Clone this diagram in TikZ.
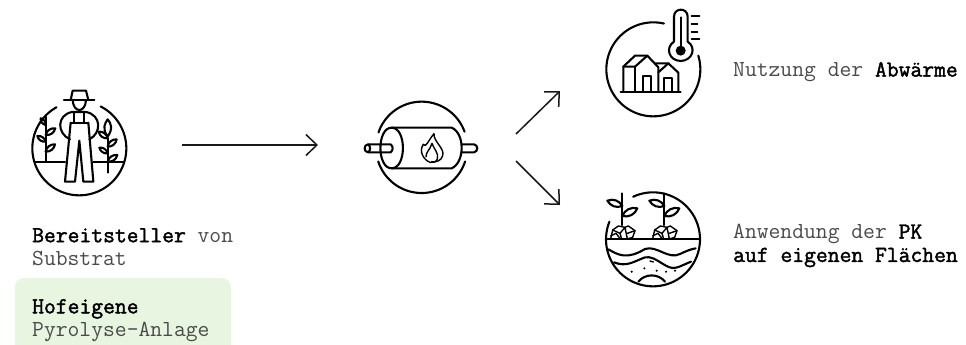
\documentclass[tikz,border=0pt]{standalone}
\usepackage{fontspec}
\setmonofont{Latin Modern Mono}[BoldFont={Latin Modern Mono},BoldFeatures={FakeBold=1.8}]
\usetikzlibrary{arrows.meta}
\definecolor{txtgray}{HTML}{4A4A4A}
\definecolor{boxgreen}{HTML}{E8F5E1}
\newcommand{\ring}[5]{\draw plot[domain=#4:#5,samples=90] ({#1+#3*cos(\x)},{#2+#3*sin(\x)});}
\newcommand{\leaf}[4]{\draw (#1,#2) to[bend left=42] (#3,#4) to[bend left=42] (#1,#2);}
\tikzset{
  zm/.style 2 args={x=0.33333pt,y=-0.33333pt,shift={(#1pt,-#2pt)}},
  icon/.style={line width=2.1pt,line cap=round,line join=round,black},
  thin icon/.style={line width=1.4pt,line cap=round,line join=round,black},
  flow/.style={line width=1.5pt,draw=black!90,-{Straight Barb[length=11pt,width=21pt,line width=1.5pt]}},
  txt/.style={inner sep=0pt,anchor=north west,align=left,text=txtgray,font=\ttfamily\fontsize{22.95pt}{23.4pt}\selectfont}
}
\newcommand{\hi}[1]{{\color{black}\bfseries #1}}
\begin{document}
\begin{tikzpicture}[x=1pt,y=-1pt]
\useasboundingbox (0,0) rectangle (966,345);
% green box
\fill[boxgreen,rounded corners=9pt] (15,278) rectangle (231,365);
% texts
\node[txt] (t1) at (32,228) {\hi{Bereitsteller} von\\Substrat};
\node[txt] (t2) at (32,299) {\hi{Hofeigene}\\Pyrolyse-Anlage};
\node[txt] (t3) at (733,62) {Nutzung der \hi{Abwärme}};
\node[txt] (t4) at (733,224) {Anwendung der \hi{PK}\\\hi{auf eigenen Flächen}};
% connectors
\coordinate (farmer) at (182,145);
\coordinate (reactorin) at (318,145);
\coordinate (reactorup) at (516,134);
\coordinate (heat) at (560,91);
\coordinate (reactordown) at (516,161);
\coordinate (soil) at (560,205);
\draw[flow] (farmer) -- (reactorin);
\draw[flow] (reactorup) -- (heat);
\draw[flow] (reactordown) -- (soil);
% farmer icon
\begin{scope}[zm={0}{70},icon]
\ring{238}{235}{141}{-63}{241}
\draw (192,90) -- (283,90);
\draw (212,90) -- (218,62) -- (258,62) -- (265,90);
\draw (218,90) .. controls (220,130) and (256,130) .. (258,90);
\draw (212,158) -- (265,158);
\draw (222,128) -- (222,158) (253,128) -- (253,158);
\draw (212,158) -- (195,335) -- (225,335) -- (238,212) -- (250,335) -- (280,335) -- (265,158);
\draw (210,208) .. controls (170,190) and (170,135) .. (216,126) -- (258,126) .. controls (305,135) and (305,190) .. (268,208);
\draw (105,275) -- (195,275) (280,275) -- (372,275);
\draw (137,140) -- (137,275);
\leaf{137}{165}{122}{145}
\leaf{137}{195}{166}{175}
\leaf{137}{215}{112}{198}
\leaf{137}{245}{165}{223}
\draw (323,205) -- (323,308);
\draw (323,200) .. controls (305,175) and (315,160) .. (323,148) .. controls (333,160) and (340,175) .. (323,200);
\leaf{323}{205}{296}{185}
\leaf{323}{230}{350}{208}
\leaf{323}{250}{298}{233}
\leaf{323}{275}{352}{255}
\end{scope}
% reactor icon
\begin{scope}[zm={350}{85},icon]
\ring{215}{187}{137}{-161}{-20}
\ring{215}{187}{137}{18}{162}
\draw (125,128) -- (305,128) .. controls (345,145) and (345,232) .. (305,250) -- (125,250);
\draw (125,128) .. controls (170,128) and (170,250) .. (125,250) .. controls (80,250) and (80,128) .. (125,128);
\draw (122,178) -- (55,178) .. controls (40,178) and (40,202) .. (55,202) -- (122,202) .. controls (130,195) and (130,185) .. (122,178);
\draw (55,178) .. controls (62,185) and (62,195) .. (55,202);
\draw (335,178) -- (372,178) .. controls (385,180) and (385,200) .. (372,202) -- (335,202);
\draw[thin icon] (240,232) .. controls (222,225) and (205,200) .. (220,178) .. controls (228,190) and (232,170) .. (252,146) .. controls (250,170) and (285,190) .. (278,212) .. controls (274,226) and (262,232) .. (240,232);
\draw[thin icon] (228,215) .. controls (228,200) and (240,195) .. (246,175) .. controls (250,190) and (268,205) .. (262,222) .. controls (258,232) and (250,232) .. (245,230);
\end{scope}
% heat icon
\begin{scope}[zm={590}{0},icon]
\ring{190}{208}{141}{-17}{283}
\draw (252,125) -- (252,50) .. controls (252,22) and (293,22) .. (293,50) -- (293,125) .. controls (320,142) and (308,182) .. (272,183) .. controls (236,182) and (225,142) .. (252,125);
\fill (272,152) circle[radius=15];
\draw (272,52) -- (272,140);
\draw (305,48) -- (328,48) (305,72) -- (322,72) (305,97) -- (322,97) (305,118) -- (328,118);
\draw (92,275) -- (272,275);
\draw (100,275) -- (100,200) -- (135,167) -- (172,167) -- (205,202) -- (205,275);
\draw (100,200) -- (135,200) -- (172,167);
\draw (135,200) -- (135,275);
\draw (160,275) -- (160,228) -- (182,228) -- (182,275);
\draw (195,190) -- (235,190) -- (265,218) -- (265,275);
\draw (235,190) -- (205,217);
\draw (222,275) -- (222,235) -- (245,235) -- (245,275);
\end{scope}
% soil icon
\begin{scope}[zm={590}{180},icon]
\ring{189}{178}{141}{-115}{202}
\draw (48,177) -- (328,177);
\draw (55,208) .. controls (85,225) and (110,240) .. (165,207) .. controls (200,195) and (235,240) .. (270,222) .. controls (285,215) and (300,208) .. (317,205);
\draw (72,247) .. controls (110,262) and (130,245) .. (165,232) .. controls (200,225) and (230,275) .. (262,262) .. controls (275,258) and (290,250) .. (303,245);
\draw (145,305) .. controls (165,280) and (205,280) .. (225,305);
\foreach \px/\py in {125/275,163/265,200/272,228/275,255/272} \fill (\px,\py) circle[radius=3.5];
\draw[thin icon] (180,243) -- (190,246);
\foreach \dx in {0,126}{
 \begin{scope}[shift={(\dx*0.33333pt,0pt)}]
 \draw (97,40) -- (97,135);
 \leaf{97}{78}{52}{62}
 \leaf{97}{108}{142}{85}
 \draw[thin icon] (62,177) -- (68,150) -- (85,138) -- (105,142) -- (115,138) -- (135,152) -- (128,172) -- (112,177);
 \draw[thin icon] (68,150) -- (90,160) -- (105,142) (90,160) -- (95,177) (105,142) -- (112,177) (112,160) -- (135,152);
 \draw[thin icon] (62,168) -- (78,160) -- (90,175);
 \end{scope}
}
\end{scope}
\end{tikzpicture}
\end{document}
